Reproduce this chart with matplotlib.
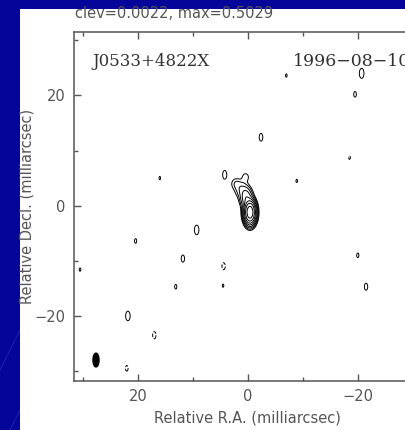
import numpy as np
import matplotlib
matplotlib.use('Agg')
import matplotlib.pyplot as plt
from matplotlib.patches import Ellipse, Rectangle
from matplotlib.ticker import MultipleLocator


clev = 0.0022
peak = 0.5029
level_steps = [-1, 1, 2, 4, 8, 16, 32, 64, 128]

# source components: ra, dec (mas), flux, sigma ra, sigma dec
comp_ra = [-0.4, 0.3, 1.2, 2.2, 0.4]
comp_dec = [-1.2, 1.5, 3.0, 4.0, 5.2]
comp_amp = [0.495, 0.03, 0.008, 0.004, 0.0035]
comp_sra = [0.5, 0.6, 0.7, 0.6, 0.5]
comp_sdec = [1.0, 1.0, 0.9, 0.7, 0.6]

# residual blobs around the map
blob_ra = [4.2, -2.4, 9.3, 21.8, -20.7,
           -19.5, 16.0, 20.4, 11.8, 13.1, 4.5, -8.9, -7.0, -20.0, -21.5, 30.5,
           17.0, 4.4, 22.0, -18.5]
blob_dec = [5.6, 12.4, -4.4, -20.0, 24.0,
            20.2, 5.0, -6.4, -9.6, -14.7, -14.5, 4.5, 23.6, -9.0, -14.7, -11.6,
            -23.5, -11.0, -29.5, 8.7]
blob_amp = [0.0030, 0.0028, 0.0032, 0.0032, 0.0033,
            0.0025, 0.0023, 0.0024, 0.0027, 0.0024, 0.0023, 0.0023, 0.0023, 0.0024, 0.0027, 0.0023,
            -0.0027, -0.0027, -0.0025, -0.0023]

beam_ra, beam_dec = 27.6, -28.0
beam_w, beam_h = 1.1, 2.5

source = 'J0533+4822X'
date = '1996\u221208\u221210'

xlim = (31.6, -31.6)
ylim = (-31.8, 31.5)

W, H = 405, 430
fig = plt.figure(figsize=(W/100, H/100), dpi=100)
fig.patch.set_facecolor('#05059a')

# faint slide streaks, only visible on the blue margin
for x0 in [-100, -20, 60]:
    fig.add_artist(plt.Line2D([0, 20/W], [x0/H, (x0+40)/H], transform=fig.transFigure, color='#3a3ac0', lw=0.6, alpha=0.6, zorder=-1))
fig.add_artist(Rectangle((20/W, 0), 1, 1-9/H, transform=fig.transFigure, facecolor='white', edgecolor='none', zorder=0))

px = 5.5
left, top, bottom = 74, 32, 381
ax = fig.add_axes([left/W, 1-bottom/H, (xlim[0]-xlim[1])*px/W, (bottom-top)/H])
ax.set_facecolor('white')

ra = np.arange(-33, 33, 0.05)
dec = np.arange(-33, 33, 0.05)
X, Y = np.meshgrid(ra, dec)
img = np.zeros_like(X)
for x0, y0, a, sx, sy in zip(comp_ra, comp_dec, comp_amp, comp_sra, comp_sdec):
    img += a*np.exp(-0.5*(((X-x0)/sx)**2 + ((Y-y0)/sy)**2))
for x0, y0, a in zip(blob_ra, blob_dec, blob_amp):
    img += a*np.exp(-0.5*(((X-x0)/0.47)**2 + ((Y-y0)/1.0)**2))

levels = [clev*s for s in level_steps]
ax.contour(X, Y, img, levels=levels, colors='k', linewidths=0.7,
           linestyles=['dashed'] + ['solid']*(len(levels)-1))

ax.add_patch(Ellipse((beam_ra, beam_dec), beam_w, beam_h, facecolor='k', edgecolor='k'))

ax.set_xlim(*xlim)
ax.set_ylim(*ylim)

ax.xaxis.set_major_locator(MultipleLocator(20))
ax.xaxis.set_minor_locator(MultipleLocator(10))
ax.yaxis.set_major_locator(MultipleLocator(20))
ax.yaxis.set_minor_locator(MultipleLocator(10))
ax.tick_params(which='both', direction='in', top=True, right=True, colors='#555555', labelcolor='#555555', labelsize=10.5)
ax.tick_params(which='major', length=5, width=1, pad=6)
ax.tick_params(which='minor', length=3, width=1)
for s in ax.spines.values():
    s.set_color('#555555')
    s.set_linewidth(1.1)

ax.set_xlabel('Relative R.A. (milliarcsec)', color='#555555', fontsize=10.5, labelpad=4.5)
ax.set_ylabel('Relative Decl. (milliarcsec)', color='#555555', fontsize=10.5, labelpad=0)

ax.text(28.2, 26.2, source, family='DejaVu Serif', fontsize=12, color='#333333', va='center', ha='left')
ax.text(-8.2, 26.2, date, family='DejaVu Serif', fontsize=12.5, color='#333333', va='center', ha='left')

fig.text(75/W, 1-14/H, 'clev=%.4f, max=%.4f' % (clev, peak), fontsize=10.5, color='#555555', va='center', ha='left')

fig.savefig('out.png', dpi=100, facecolor=fig.get_facecolor())
